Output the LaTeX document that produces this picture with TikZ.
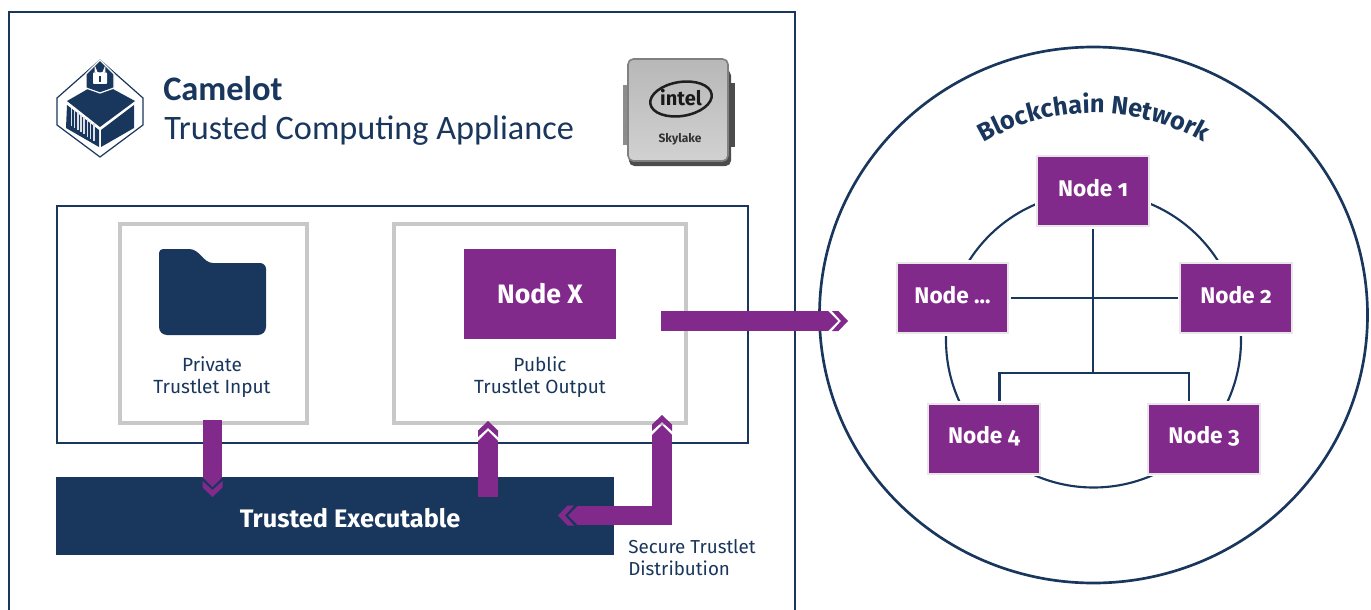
\documentclass[tikz,border=0pt]{standalone}
\usepackage{fontspec}
\setmainfont[Numbers=OldStyle]{Fira Sans}
\newfontfamily\titlefont{Carlito}
\usetikzlibrary{decorations.text,calc}
\definecolor{navy}{HTML}{19365C}
\definecolor{plum}{HTML}{82298C}
\definecolor{boxgray}{HTML}{C8C8C8}
\definecolor{halo}{HTML}{E8E6E8}
\tikzset{
  x=0.75pt,y=-0.75pt,
  frame/.style={draw=navy,line width=2.1pt},
  graybox/.style={draw=boxgray,line width=2.3pt},
  netnode/.style={fill=plum,draw=halo,line width=1.5pt,preaction={draw=white,line width=4.2pt},minimum width=83.5pt,minimum height=52.5pt,inner sep=0pt,text=white,font=\fontsize{17}{20}\selectfont\bfseries,outer sep=1.9pt},
  netline/.style={draw=navy,line width=1.6pt},
  shaft/.style={draw=plum,line width=14.7pt},
  caption/.style={text=navy,font=\fontsize{14.3}{16.5}\selectfont,align=center},
}
\newcommand{\chevhead}[2]{%
  \begin{scope}[shift={(#1)},rotate=#2]
    \fill[plum] (0,-10) -- (10,0) -- (0,10) -- cycle;
    \fill[plum] (4,-10) -- (10.5,-10) -- (20,0) -- (10.5,10) -- (4,10) -- (13,0) -- cycle;
  \end{scope}}
\begin{document}
\begin{tikzpicture}
\useasboundingbox (0,0) rectangle (1371,610);
\fill[white] (0,0) rectangle (1371,610);
\path[clip] (0,0) rectangle (1371,610);
% appliance frame
\draw[frame] (9,700) -- (9,12) -- (795,12) -- (795,700);
% logo
\draw[navy,line width=0.9pt,line join=miter] (57,98) -- (100,60) -- (143,98) -- (143,125) -- (100,157) -- (57,125) -- cycle;
\fill[navy] (100,82) -- (135,101) -- (100,127) -- (67,101) -- cycle;
\fill[navy] (67,105) -- (99,130) -- (99,147) -- (66,128) -- cycle;
\fill[navy] (134,105) -- (101,130) -- (101,147) -- (134,128) -- cycle;
\foreach \i in {0,...,7}{
  \fill[white!85!navy] ({70.5+\i*3.2},{108+\i*2.2}) rectangle ++(1.7,{18-\i*0.1});
}
\fill[navy,draw=white,line width=0.9pt] (100,60) -- (114,74) -- (114,88) -- (100,93) -- (86,88) -- (86,74) -- cycle;
\fill[white,rounded corners=0.6pt] (93,72.5) rectangle (107,84);
\draw[white,line width=1.3pt] (95.5,72.5) -- (95.5,69.5) arc[start angle=180,end angle=0,radius=4.5] -- (104.5,72.5);
\fill[navy] (99,76) rectangle (101,82);
% title
\node[anchor=base west,inner sep=0pt,text=navy,font=\titlefont\fontsize{25.8}{28}\selectfont\bfseries] (camelot) at (163,101) {Camelot};
\node[anchor=base west,inner sep=0pt,text=navy,font=\titlefont\fontsize{25.7}{28}\selectfont] (appliance) at (164,139) {Trusted Computing Appliance};
% cpu
\fill[black!45] (623,85) rectangle (632,145);
\fill[black!70] (725,83) rectangle (735,147);
\fill[black!70,rounded corners=4pt] (629,70) rectangle (731,166);
\draw[black!50,line width=1.2pt,rounded corners=4pt,top color=black!28,bottom color=black!18] (628,59) rectangle (728,161);
\draw[black!88,line width=1.9pt,rotate around={9:(681,99)}] (681,99) ellipse[x radius=31,y radius=17];
\node[inner sep=0pt,text=black!90,font=\fontsize{15}{18}\selectfont\bfseries] (intel) at (681,98) {intel};
\node[inner sep=0pt,text=black!80,font=\fontsize{9}{11}\selectfont\bfseries] (skylake) at (680,139) {Skylake};
% inner frame
\draw[frame] (57,206) rectangle (748,443);
\draw[graybox] (120,224) rectangle (307,423);
\draw[graybox] (394,224) rectangle (686,423);
% folder
\fill[navy] (163,249) -- (189,249) .. controls (200,249) and (203,263) .. (213,263) -- (260,263)
  arc[start angle=-90,end angle=0,radius=6] -- (266,327) arc[start angle=0,end angle=90,radius=8] -- (167,335)
  arc[start angle=90,end angle=180,radius=8] -- (159,253) arc[start angle=180,end angle=270,radius=4] -- cycle;
\node[caption] (input) at (212,377.5) {Private\\Trustlet Input};
\node[fill=plum,minimum width=114pt,minimum height=67.5pt,inner sep=0pt,text=white,font=\fontsize{20}{22}\selectfont\bfseries] (nodex) at (540,294) {\raisebox{1pt}{Node X}};
\node[caption] (output) at (540,377.5) {Public\\Trustlet Output};
% executable
\node[fill=navy,minimum width=418.5pt,minimum height=58.5pt,inner sep=0pt] (exec) at (335,516) {};
\node[inner sep=0pt,text=white,font=\fontsize{19}{22}\selectfont\bfseries] (execlabel) at (350,518) {Trusted Executable};
\node[anchor=north west,text=navy,font=\fontsize{14.1}{16.5}\selectfont,align=left,inner sep=0pt] (secure) at (628,539) {Secure Trustlet\\Distribution};
% network
\draw[navy,line width=2pt] (1093.5,315) ellipse[x radius=274,y radius=268];
\draw[netline] (1093.5,340) circle[radius=147.5];
\path[decorate,decoration={text along path,text align=center,text={|\fontsize{19}{22}\selectfont\bfseries\color{navy}|Blockchain Network}}]
  (976.9,146.4) arc[start angle=-122,end angle=-58,radius=220];
\node[netnode] (n1) at (1093,191) {\raisebox{5.3pt}{Node 1}};
\node[netnode] (nd) at (952.5,298) {\raisebox{5.3pt}{Node ...}};
\node[netnode] (n2) at (1236,298) {\raisebox{5.3pt}{Node 2}};
\node[netnode] (n4) at (984,438.5) {\raisebox{5.3pt}{Node 4}};
\node[netnode] (n3) at (1204,438.5) {\raisebox{5.3pt}{Node 3}};
\coordinate (fork) at (1093,373);
\draw[netline] (n1.south) -- (fork);
\draw[netline] (nd.east) -- (n2.west);
\draw[netline] ([xshift=11.6pt]n4.north) |- (fork) -| ([xshift=-11.3pt]n3.north);
% flows
\coordinate (d0) at (212.5,420); \coordinate (d1) at (212.5,477);
\draw[shaft] (d0) -- (d1); \chevhead{d1}{-90}
\coordinate (u0) at (488,497); \coordinate (u1) at (488,441);
\draw[shaft] (u0) -- (u1); \chevhead{u1}{90}
\coordinate (r0) at (661,321); \coordinate (r1) at (828,321);
\draw[shaft] (r0) -- (r1); \chevhead{r1}{0}
\coordinate (l1) at (662,435); \coordinate (lc) at (662,515.5); \coordinate (l2) at (578,515.5);
\draw[shaft,line join=miter] (l1) -- (lc) -- (l2);
\chevhead{l1}{90}\chevhead{l2}{180}
\end{tikzpicture}
\end{document}
